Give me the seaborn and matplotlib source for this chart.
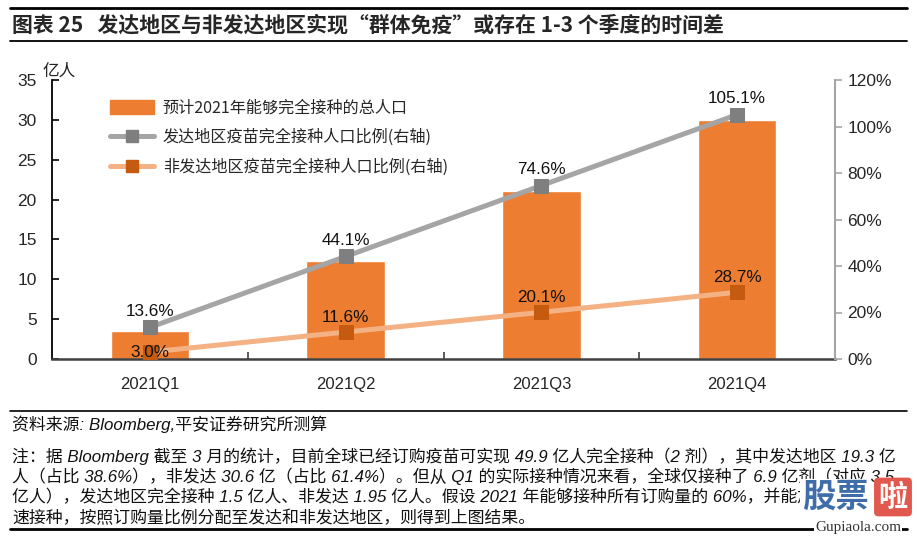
import numpy as np
import pandas as pd
import matplotlib
matplotlib.use("Agg")
import matplotlib.pyplot as plt
import seaborn as sns
from matplotlib.lines import Line2D
from matplotlib.patches import Patch

quarters = ["2021Q1", "2021Q2", "2021Q3", "2021Q4"]
total_people = [3.45, 12.3, 21.1, 29.94]          # 亿人
developed_pct = [13.6, 44.1, 74.6, 105.1]          # %
developing_pct = [3.0, 11.6, 20.1, 28.7]           # %
left_ticks = [0, 5, 10, 15, 20, 25, 30, 35]
right_ticks = [0, 20, 40, 60, 80, 100, 120]

legend_labels = ["预计2021年能够完全接种的总人口",
                 "发达地区疫苗完全接种人口比例(右轴)",
                 "非发达地区疫苗完全接种人口比例(右轴)"]
title_text = "图表 25   发达地区与非发达地区实现“群体免疫”或存在 1-3 个季度的时间差"
source_text = "资料来源: Bloomberg,平安证券研究所测算"
note_lines = [
    "注：据 Bloomberg 截至 3 月的统计，目前全球已经订购疫苗可实现 49.9 亿人完全接种（2 剂），其中发达地区 19.3 亿",
    "人（占比 38.6%），非发达 30.6 亿（占比 61.4%）。但从 Q1 的实际接种情况来看，全球仅接种了 6.9 亿剂（对应 3.5",
    "亿人），发达地区完全接种 1.5 亿人、非发达 1.95 亿人。假设 2021 年能够接种所有订购量的 60%，并能加",
    "速接种，按照订购量比例分配至发达和非发达地区，则得到上图结果。",
]

sns.set_theme(style="white")
plt.rcParams["font.family"] = ["Liberation Sans", "Noto Sans CJK SC", "DejaVu Sans"]
plt.rcParams["axes.unicode_minus"] = False

W, H = 917, 537
fig = plt.figure(figsize=(W / 100, H / 100), dpi=100)
ax = fig.add_axes([52 / W, 1 - 359 / H, (835 - 52) / W, (359 - 80) / H])

df = pd.DataFrame({"q": quarters, "total": total_people,
                   "dev": developed_pct, "ndev": developing_pct,
                   "pos": np.arange(len(quarters))})

bar_color = "#ED7D31"
sns.barplot(data=df, x="q", y="total", color=bar_color, saturation=1,
            width=0.4, ax=ax, zorder=2)
ax.set_xlim(-0.5, len(quarters) - 0.5)
ax.set_ylim(0, 35)
ax.set_yticks(left_ticks)
ax.set_xlabel("")
ax.set_ylabel("")
ax.tick_params(axis="y", direction="in", length=5, width=1.2, color="black",
               labelsize=12.5, pad=11, left=True)
ax.tick_params(axis="x", which="major", length=0, labelsize=12, pad=13)
ax.set_xticks(np.arange(len(quarters)) + 0.5, minor=True)
ax.tick_params(axis="x", which="minor", direction="in", length=5, width=1.2,
               color="#404040", bottom=True)
for s in ["top", "right"]:
    ax.spines[s].set_visible(False)
ax.spines["left"].set_color("black")
ax.spines["left"].set_linewidth(1.3)
ax.spines["bottom"].set_color("#404040")
ax.spines["bottom"].set_linewidth(1.8)
ax.text(-0.012, 1.03, "亿人", transform=ax.transAxes, fontsize=12,
        ha="left", va="center", family=["Noto Sans CJK SC"], color="#222222")

ax2 = ax.twinx()
gray_line, gray_mark = "#A5A5A5", "#7F7F7F"
or_line, or_mark = "#F4B183", "#C55A11"
sns.lineplot(data=df, x="pos", y="dev", ax=ax2, color=gray_line, linewidth=3.6,
             marker="s", markersize=10, markerfacecolor=gray_mark,
             markeredgecolor=gray_mark, zorder=3)
sns.lineplot(data=df, x="pos", y="ndev", ax=ax2, color=or_line, linewidth=3.6,
             marker="s", markersize=10, markerfacecolor=or_mark,
             markeredgecolor=or_mark, zorder=3)
ax2.set_ylim(0, 120)
ax2.set_yticks(right_ticks)
ax2.set_yticklabels([f"{t}%" for t in right_ticks])
ax2.set_ylabel("")
ax2.set_xlabel("")
ax2.tick_params(axis="y", direction="out", length=5, width=1.2, color="#A5A5A5",
                labelsize=12.5, pad=4, right=True)
for s in ["top", "left", "bottom"]:
    ax2.spines[s].set_visible(False)
ax2.spines["right"].set_color("#A5A5A5")
ax2.spines["right"].set_linewidth(1.5)
ax2.set_xlim(-0.5, len(quarters) - 0.5)

for i, v in enumerate(developed_pct):
    ax2.annotate(f"{v}%", (i, v), xytext=(0, 11.5), textcoords="offset points",
                 ha="center", va="center", fontsize=12.3, color="#111111", zorder=5)
for i, v in enumerate(developing_pct):
    off = 0 if i == 0 else 10.5
    ax2.annotate(f"{v}%", (i, v), xytext=(0, off), textcoords="offset points",
                 ha="center", va="center", fontsize=12.3, color="#111111", zorder=5)

handles = [Patch(facecolor=bar_color, edgecolor=bar_color),
           Line2D([], [], color=gray_line, lw=3.6, marker="s", markersize=9,
                  markerfacecolor=gray_mark, markeredgecolor=gray_mark),
           Line2D([], [], color=or_line, lw=3.6, marker="s", markersize=9,
                  markerfacecolor=or_mark, markeredgecolor=or_mark)]
fig.legend(handles, legend_labels, loc="upper left",
           bbox_to_anchor=(104 / W, 1 - 93 / H), frameon=False,
           prop={"family": ["Noto Sans CJK SC"], "size": 11.6},
           handlelength=2.7, handleheight=0.9, labelspacing=0.78,
           handletextpad=0.55, borderaxespad=0)

# title block
fig.add_artist(Line2D([10 / W, 907 / W], [1 - 8 / H, 1 - 8 / H], color="black", lw=2))
fig.add_artist(Line2D([10 / W, 907 / W], [1 - 41 / H, 1 - 41 / H], color="black", lw=1.3))
fig.text(12 / W, 1 - 25 / H, title_text, fontsize=15, fontweight="bold",
         ha="left", va="center", family=["Noto Sans CJK SC"])

# footer
fig.add_artist(Line2D([10 / W, 907 / W], [1 - 411 / H, 1 - 411 / H], color="black", lw=1.2))
fig.add_artist(Line2D([10 / W, 907 / W], [1 - 529 / H, 1 - 529 / H], color="black", lw=2))
fig.text(12 / W, 1 - 424 / H, source_text, fontsize=12.2, style="italic",
         ha="left", va="center", color="#111111")
for k, line in enumerate(note_lines):
    fig.text(12 / W, 1 - (456 + 20.5 * k) / H, line, fontsize=12.2, style="italic",
             ha="left", va="center", color="#111111")

# watermark
fig.text(835 / W, 1 - 497 / H, "股票", fontsize=24, fontweight="bold", color="#3F6DA8",
         ha="center", va="center", family=["Noto Sans CJK SC"],
         bbox=dict(facecolor="white", edgecolor="none", pad=1))
fig.text(893 / W, 1 - 497 / H, "啦", fontsize=21, fontweight="bold", color="white",
         ha="center", va="center", family=["Noto Sans CJK SC"],
         bbox=dict(boxstyle="round,pad=0.15", facecolor="#E0584E", edgecolor="none"))
fig.text(858 / W, 1 - 528 / H, "Gupiaola.com", fontsize=11, color="#333333",
         ha="center", va="center", family=["Liberation Serif"],
         bbox=dict(facecolor="white", edgecolor="none", pad=0.5))

fig.savefig("out.png", dpi=100)
